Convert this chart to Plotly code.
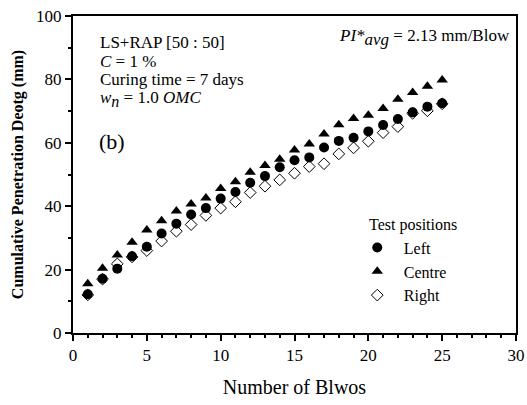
import plotly.graph_objects as go

blows = list(range(1, 26))
left = [12.2, 17.1, 20.3, 24.2, 27.2, 31.4, 34.5, 37.4, 39.4, 42.4, 44.5, 47.4, 49.5,
        52.3, 54.5, 55.4, 58.5, 60.6, 61.6, 63.6, 65.6, 67.5, 69.6, 71.4, 72.5]
centre = [15.5, 20.4, 24.6, 28.6, 32.5, 35.4, 38.5, 40.7, 42.6, 45.6, 47.7, 50.7, 52.8,
          54.8, 57.7, 59.6, 62.8, 65.7, 67.7, 68.7, 70.8, 73.7, 75.9, 77.8, 79.8]
right = [12.0, 17.0, 21.8, 24.0, 26.0, 29.0, 32.1, 34.2, 37.1, 39.4, 41.4, 44.3, 46.3,
         48.3, 50.4, 52.5, 53.4, 56.5, 58.4, 60.5, 63.2, 65.1, 69.3, 70.1, 72.3]

FONT = "Liberation Serif, Times New Roman, serif"

fig = go.Figure()
fig.add_trace(go.Scatter(x=blows, y=left, mode="markers", name="Left",
                         marker=dict(symbol="circle", size=10, color="black")))
fig.add_trace(go.Scatter(x=blows, y=centre, mode="markers", name="Centre",
                         marker=dict(symbol="triangle-up", size=10, color="black")))
fig.add_trace(go.Scatter(x=blows, y=right, mode="markers", name="Right",
                         marker=dict(symbol="diamond-open", size=9, color="black",
                                     line=dict(width=1, color="black"))))

axis_common = dict(showgrid=False, zeroline=False, showline=True, linecolor="black",
                   linewidth=2, mirror=True, ticks="outside", ticklen=6, tickwidth=2,
                   tickcolor="black", automargin=False,
                   tickfont=dict(family=FONT, size=17, color="black"))

fig.update_xaxes(range=[0, 30], dtick=5, tick0=0,
                 minor=dict(dtick=1, ticklen=3, tickwidth=2, tickcolor="black", ticks="outside"),
                 title=dict(text="Number of Blwos", font=dict(family=FONT, size=20, color="black"),
                            standoff=16),
                 **axis_common)
fig.update_yaxes(range=[0, 100], dtick=20, tick0=0,
                 minor=dict(dtick=10, ticklen=3, tickwidth=2, tickcolor="black", ticks="outside"),
                 title=dict(text="<b>Cumulative Penetration Deotg (mm)</b>",
                            font=dict(family=FONT, size=16, color="black"), standoff=8),
                 **axis_common)

ann_font = dict(family=FONT, size=17, color="black")
lines = ["LS+RAP [50 : 50]", "<i>C</i> = 1 %", "Curing time = 7 days",
         "<i>w<sub><span style=\"font-size:16px\">n</span></sub></i> = 1.0 <i>OMC</i>"]
tops = [95.3, 89.4, 83.5, 77.9]
for t, yv in zip(lines, tops):
    fig.add_annotation(x=1.7, y=yv, xref="x", yref="y", text=t, showarrow=False,
                       xanchor="left", yanchor="top", font=ann_font)
fig.add_annotation(x=1.6, y=60.3, xref="x", yref="y", text="(b)", showarrow=False,
                   xanchor="left", yanchor="middle", font=dict(family=FONT, size=22, color="black"))
fig.add_annotation(x=29.7, y=97.5, xref="x", yref="y",
                   text="<i>PI*<sub><span style=\"font-size:17px\">avg</span></sub></i> = 2.13 mm/Blow",
                   showarrow=False, xanchor="right", yanchor="top", font=ann_font)
# legend heading
fig.add_annotation(x=19.9, y=34.1, xref="x", yref="y", text="Test positions", showarrow=False,
                   xanchor="left", yanchor="middle", font=dict(family=FONT, size=16, color="black"))

fig.update_layout(
    width=527, height=405,
    margin=dict(l=73, r=11, t=16, b=72),
    plot_bgcolor="white", paper_bgcolor="white",
    legend=dict(x=0.627, y=0.323, xanchor="left", yanchor="top", itemwidth=43,
                font=dict(family=FONT, size=16, color="black"),
                bgcolor="rgba(0,0,0,0)", tracegroupgap=0),
    font=dict(family=FONT, color="black"),
)

fig.write_html("out.html")
